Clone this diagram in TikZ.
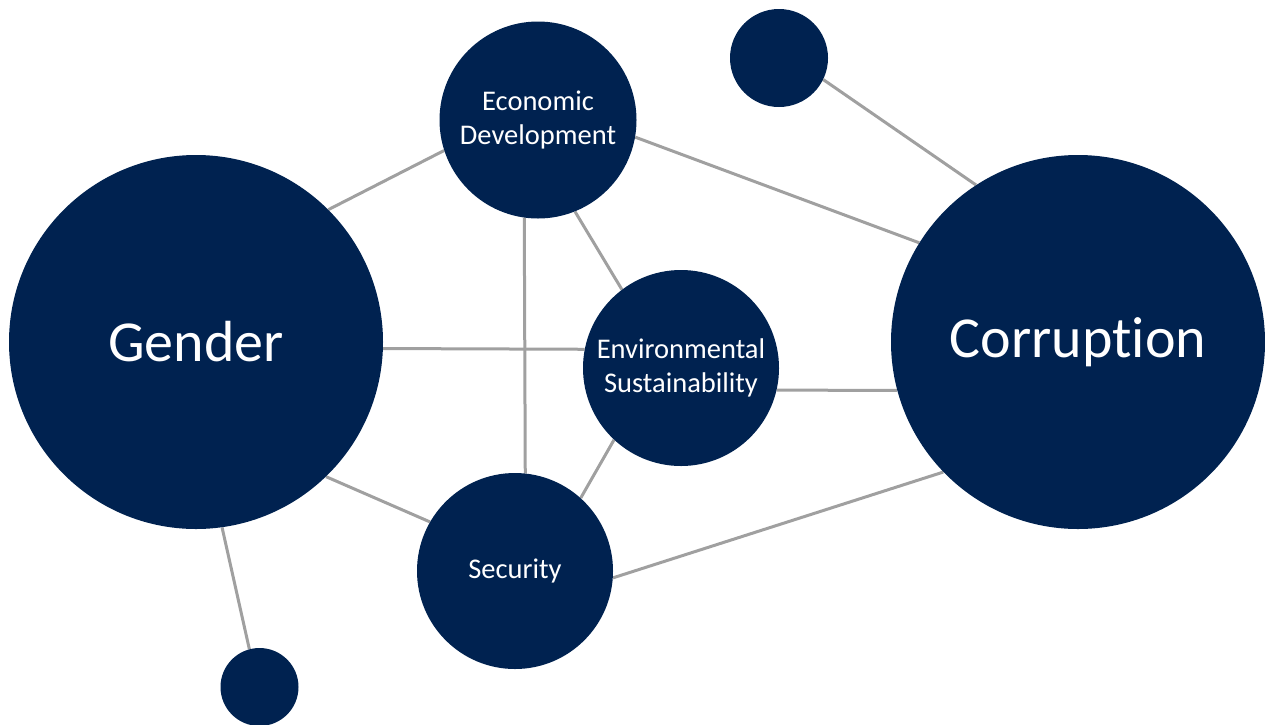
\documentclass[tikz,border=0pt]{standalone}
\usepackage{fontspec}
\setmainfont[Ligatures={NoCommon}]{Carlito}
\usetikzlibrary{backgrounds}
\definecolor{navy}{RGB}{0,34,80}
\definecolor{linkgray}{RGB}{160,160,160}
\begin{document}
\begin{tikzpicture}[x=1pt,y=-1pt,
  bubble/.style={circle,fill=navy,text=white,inner sep=0pt,align=center},
  big/.style={bubble,minimum size=374pt,font=\fontsize{58}{66}\selectfont},
  mid/.style={bubble,minimum size=197pt,font=\fontsize{28.5}{34}\selectfont},
  dot/.style={bubble},
  link/.style={draw=linkgray,line width=3pt}]
\useasboundingbox (0,0) rectangle (1265,724);
\node[big] (gender) at (196,342) {Gender};
\node[big] (corr) at (1078,342) {Corruption};
\node[mid] (econ) at (538,120) {Economic\\Development};
\node[mid,minimum size=196pt] (env) at (681,368) {Environmental\\Sustainability};
\node[mid,minimum size=196pt] (sec) at (515,571) {Security};
\node[dot,minimum size=98pt] (topdot) at (779,58) {};
\node[dot,minimum size=78pt] (botdot) at (259.5,687) {};
\begin{pgfonlayer}{background}
\draw[link] (gender.45.2) -- (econ.198);
\draw[link] (gender.-2) -- (env.169);
\draw[link] (gender.-46.5) -- (sec.150);
\draw[link] (gender.-82.4) -- (botdot.105);
\draw[link] (econ.-10.3) -- (corr.148.2);
\draw[link] (econ.-98.1) -- (sec.84.7);
\draw[link] (econ.-68) -- (env.127);
\draw[link] (env.-133) -- (sec.48.7);
\draw[link] (env.-13) -- (corr.-165);
\draw[link] (sec.-4) -- (corr.-136);
\draw[link] (topdot.-26) -- (corr.123);
\end{pgfonlayer}
\end{tikzpicture}
\end{document}
